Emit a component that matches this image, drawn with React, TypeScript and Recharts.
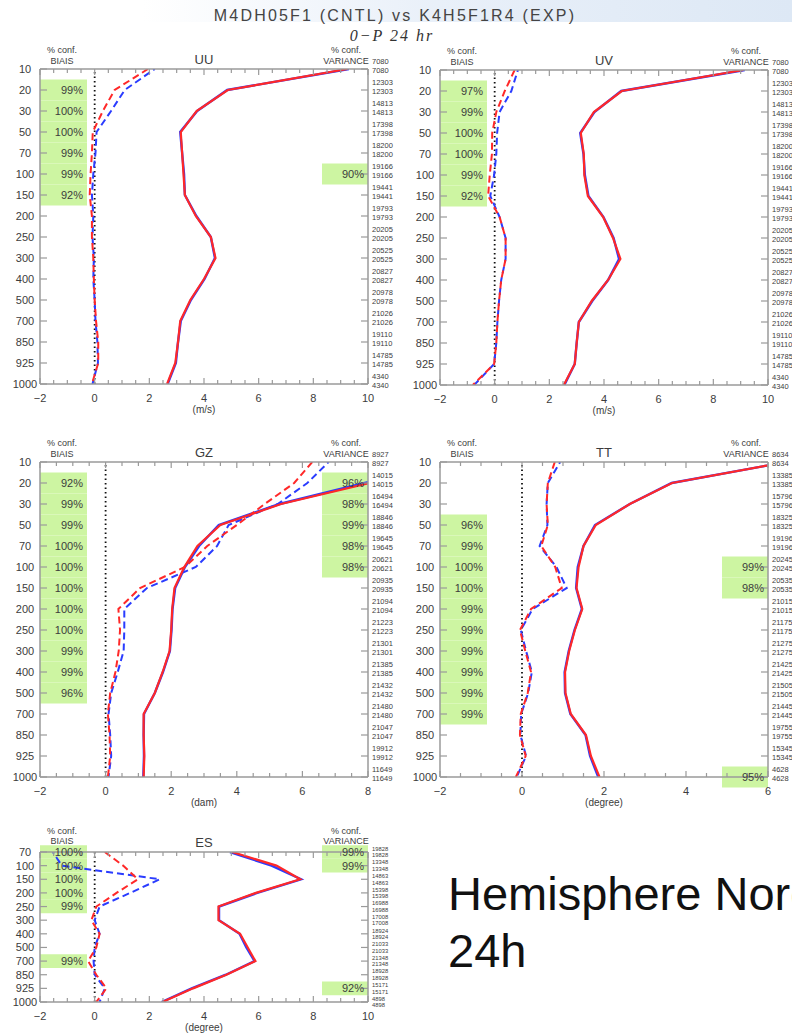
import React from 'react'
import { LineChart, Line, XAxis, YAxis, ReferenceArea, ReferenceLine } from 'recharts'

const RED = '#ff2828'
const BLUE = '#2a3cff'
const GREEN = '#cdf5a2'
const FRAME = '#9a9a9a'
const INK = '#3c3c3c'
const FONT = '"Liberation Sans", Arial, sans-serif'

const LEVELS = ['10', '20', '30', '50', '70', '100', '150', '200', '250', '300', '400', '500', '700', '850', '925', '1000']
const ES_LEVELS = ['70', '100', '150', '200', '250', '300', '400', '500', '700', '850', '925', '1000']

// UU (m/s)
const uuCntlBias = [2.2, 1.1, 0.6, 0.07, 0.03, -0.05, -0.1, -0.05, -0.08, -0.03, -0.05, 0.0, 0.03, 0.1, 0.12, -0.08]
const uuExpBias = [1.95, 0.73, 0.3, -0.07, -0.1, -0.15, -0.18, -0.1, -0.1, -0.05, -0.03, 0.0, 0.05, 0.13, 0.13, -0.1]
const uuCntlStd = [9.3, 4.85, 3.75, 3.13, 3.2, 3.27, 3.3, 3.72, 4.25, 4.4, 4.02, 3.52, 3.15, 3.05, 2.97, 2.67]
const uuExpStd = [9.25, 4.87, 3.73, 3.15, 3.2, 3.25, 3.3, 3.7, 4.25, 4.42, 4.0, 3.5, 3.13, 3.05, 2.95, 2.65]
const uuCounts = [7080, 12303, 14813, 17398, 18200, 19166, 19441, 19793, 20205, 20525, 20827, 20978, 21026, 19110, 14785, 4340]
const uuBiasConf = ['', '99%', '100%', '100%', '99%', '99%', '92%', '', '', '', '', '', '', '', '', '']
const uuVarConf = ['', '', '', '', '', '90%', '', '', '', '', '', '', '', '', '', '']

// UV (m/s)
const uvCntlBias = [0.85, 0.61, 0.18, 0.09, 0.06, -0.02, -0.16, 0.18, 0.4, 0.4, 0.24, 0.16, 0.1, 0.06, -0.02, -0.75]
const uvExpBias = [0.73, 0.37, 0.06, -0.09, -0.1, -0.18, -0.24, 0.18, 0.4, 0.4, 0.24, 0.16, 0.1, 0.06, -0.02, -0.8]
const uvCntlStd = [9.15, 4.63, 3.65, 3.13, 3.25, 3.3, 3.43, 3.98, 4.35, 4.55, 4.15, 3.57, 3.08, 3.0, 2.93, 2.55]
const uvExpStd = [9.1, 4.65, 3.63, 3.15, 3.26, 3.28, 3.41, 3.97, 4.33, 4.6, 4.15, 3.55, 3.08, 3.0, 2.93, 2.53]
const uvCounts = [7080, 12303, 14813, 17398, 18200, 19166, 19441, 19793, 20205, 20525, 20827, 20978, 21026, 19110, 14785, 4340]
const uvBiasConf = ['', '97%', '99%', '100%', '100%', '99%', '92%', '', '', '', '', '', '', '', '', '']
const uvVarConf = ['', '', '', '', '', '', '', '', '', '', '', '', '', '', '', '']

// GZ (dam)
const gzCntlBias = [6.8, 6.15, 5.25, 3.75, 3.4, 2.75, 1.26, 0.57, 0.57, 0.55, 0.37, 0.17, 0.09, 0.14, 0.17, 0.09]
const gzExpBias = [6.3, 5.75, 4.85, 4.0, 3.1, 2.42, 1.05, 0.39, 0.44, 0.4, 0.3, 0.14, 0.07, 0.12, 0.14, 0.07]
const gzCntlStd = [11, 7.9, 5.3, 3.45, 2.85, 2.42, 2.12, 2.04, 2.01, 1.96, 1.75, 1.5, 1.17, 1.16, 1.17, 1.15]
const gzExpStd = [11.5, 8.05, 5.35, 3.5, 2.8, 2.4, 2.1, 2.03, 2.0, 1.95, 1.74, 1.5, 1.16, 1.16, 1.18, 1.16]
const gzCounts = [8927, 14015, 16494, 18846, 19645, 20621, 20935, 21094, 21223, 21301, 21385, 21432, 21480, 21047, 19912, 11649]
const gzBiasConf = ['', '92%', '99%', '99%', '100%', '100%', '100%', '100%', '100%', '99%', '99%', '96%', '', '', '', '']
const gzVarConf = ['', '96%', '98%', '99%', '98%', '98%', '', '', '', '', '', '', '', '', '', '']

// TT (degree)
const ttCntlBias = [0.93, 0.63, 0.6, 0.62, 0.43, 0.84, 1.09, 0.26, -0.03, 0.1, 0.24, 0.15, -0.02, -0.04, 0.1, -0.13]
const ttExpBias = [0.8, 0.63, 0.6, 0.63, 0.47, 0.81, 0.97, 0.22, -0.05, 0.08, 0.22, 0.14, -0.03, -0.05, 0.09, -0.15]
const ttCntlStd = [6.45, 3.65, 2.63, 1.78, 1.5, 1.36, 1.32, 1.46, 1.28, 1.14, 1.04, 1.05, 1.18, 1.55, 1.66, 1.86]
const ttExpStd = [6.45, 3.66, 2.63, 1.8, 1.5, 1.38, 1.33, 1.47, 1.29, 1.15, 1.05, 1.06, 1.19, 1.56, 1.68, 1.89]
const ttCounts = [8634, 13385, 15796, 18325, 19196, 20245, 20535, 21015, 21175, 21275, 21425, 21505, 21445, 19755, 15345, 4628]
const ttBiasConf = ['', '', '', '96%', '99%', '100%', '100%', '99%', '99%', '99%', '99%', '99%', '99%', '', '', '']
const ttVarConf = ['', '', '', '', '', '99%', '98%', '', '', '', '', '', '', '', '', '95%']

// ES (degree)
const esCntlBias = [-1.53, -1.2, 2.38, 1.3, 0.18, 0.0, 0.18, 0.0, -0.04, 0.0, 0.37, 0.18]
const esExpBias = [0.37, 1.04, 1.58, 0.8, 0.06, -0.12, 0.18, 0.06, -0.24, 0.06, 0.43, 0.06]
const esCntlStd = [4.95, 6.47, 7.55, 5.95, 4.55, 4.55, 5.3, 5.55, 5.85, 4.8, 3.55, 2.45]
const esExpStd = [5.03, 6.65, 7.52, 5.9, 4.53, 4.53, 5.32, 5.6, 5.88, 4.82, 3.6, 2.48]
const esCounts = [19828, 13348, 14863, 15398, 16988, 17008, 18924, 21033, 21348, 18928, 15171, 4898]
const esBiasConf = ['100%', '100%', '100%', '100%', '99%', '', '', '', '99%', '', '', '']
const esVarConf = ['99%', '99%', '', '', '', '', '', '', '', '', '92%', '']

const WIND_TICKS = [-2, 0, 2, 4, 6, 8, 10]
const GZ_TICKS = [-2, 0, 2, 4, 6, 8]
const TT_TICKS = [-2, 0, 2, 4, 6]

const fmt = (v: number) => (v < 0 ? '\u2212' + Math.abs(v) : String(v))

function Txt({ x, y, size, children, style }: any) {
  return (
    <div
      style={{
        position: 'absolute', left: x, top: y, transform: 'translate(-50%, -50%)',
        fontSize: size, color: INK, whiteSpace: 'nowrap', lineHeight: 1, ...style,
      }}
    >
      {children}
    </div>
  )
}

interface PanelProps {
  name: string
  unit: string
  levels: string[]
  cntlBias: number[]
  expBias: number[]
  cntlStd: number[]
  expStd: number[]
  counts: number[]
  biasConf: string[]
  varConf: string[]
  xTicks: number[]
  box: { left: number; top: number; right: number; bottom: number }
}

function Panel({ name, unit, levels, cntlBias, expBias, cntlStd, expStd, counts, biasConf, varConf, xTicks, box }: PanelProps) {
  const { left, top, right, bottom } = box
  const xMin = xTicks[0]
  const xMax = xTicks[xTicks.length - 1]
  const minor: number[] = []
  for (let v = xMin; v <= xMax + 1e-9; v += 0.5) minor.push(Math.round(v * 10) / 10)
  const idxTicks = levels.map((_, i) => i)
  const data = levels.map((lv, i) => ({
    idx: i, level: lv,
    cntlBias: cntlBias[i], expBias: expBias[i], cntlStd: cntlStd[i], expStd: expStd[i],
  }))
  const pxPerUnit = (right - left) / (xMax - xMin)
  const biasEdge = xMin + 47 / pxPerUnit
  const varEdge = xMax - 46 / pxPerUnit

  // count labels on the right get squeezed when levels are close together
  const step = (bottom - top) / (levels.length - 1)
  const tight = step < 16
  const cSize = tight ? 5.8 : 7.5
  const cUp = tight ? -1.3 : -5
  const cDown = tight ? 5.3 : 3.5
  const hdr1 = tight ? -21 : -19
  const hdr2 = tight ? -11 : -8

  const PADL = 40, PADR = 40, PADT = 30, PADB = 36
  const W = right - left + PADL + PADR
  const H = bottom - top + PADT + PADB

  const leftTick = (p: any) => (
    <g>
      <line x1={p.x} x2={p.x + 7} y1={p.y} y2={p.y} stroke={FRAME} strokeWidth={1.2} />
      <text x={p.x - 15} y={p.y + 4} textAnchor="middle" fontSize={11} fill={INK}>{levels[p.payload.value]}</text>
    </g>
  )
  const rightTick = (p: any) => (
    <g>
      <line x1={p.x - 7} x2={p.x} y1={p.y} y2={p.y} stroke={FRAME} strokeWidth={1.2} />
      <text x={p.x + 4} y={p.y + cUp} fontSize={cSize} fill={INK}>{counts[p.payload.value]}</text>
      <text x={p.x + 4} y={p.y + cDown} fontSize={cSize} fill={INK}>{counts[p.payload.value]}</text>
    </g>
  )
  const bottomTick = (p: any) => {
    const major = xTicks.includes(p.payload.value)
    return (
      <g>
        <line x1={p.x} x2={p.x} y1={p.y} y2={p.y - (major ? 6 : 4)} stroke={FRAME} strokeWidth={1.2} />
        {major && (
          <text x={p.x} y={p.y + 18} textAnchor="middle" fontSize={11} fill={INK}>{fmt(p.payload.value)}</text>
        )}
      </g>
    )
  }
  const topTick = (p: any) => {
    const major = xTicks.includes(p.payload.value)
    return <line x1={p.x} x2={p.x} y1={p.y} y2={p.y + (major ? 6 : 4)} stroke={FRAME} strokeWidth={1.2} />
  }

  const confLabel = (v: string) => ({ value: v, position: 'insideRight' as const, offset: 4, fill: INK, fontSize: 11 })

  return (
    <>
      <div style={{ position: 'absolute', left: left - PADL, top: top - PADT }}>
        <LineChart layout="vertical" width={W} height={H} data={data} margin={{ top: 0, right: 0, bottom: 0, left: 0 }}>
          <XAxis
            type="number" domain={[xMin, xMax]} allowDataOverflow ticks={minor} interval={0}
            height={PADB} tickSize={0} tickMargin={0} tickLine={false}
            axisLine={{ stroke: FRAME, strokeWidth: 1.5 }} tick={bottomTick}
          />
          <XAxis
            xAxisId="top" orientation="top" type="number" domain={[xMin, xMax]} allowDataOverflow
            ticks={minor} interval={0} height={PADT} tickSize={0} tickMargin={0} tickLine={false}
            axisLine={{ stroke: FRAME, strokeWidth: 1.5 }} tick={topTick}
          />
          <YAxis
            type="number" dataKey="idx" domain={[0, levels.length - 1]} allowDataOverflow
            ticks={idxTicks} interval={0} width={PADL} tickSize={0} tickMargin={0} tickLine={false}
            axisLine={{ stroke: FRAME, strokeWidth: 1.5 }} tick={leftTick}
          />
          <YAxis
            yAxisId="r" orientation="right" type="number" dataKey="idx" domain={[0, levels.length - 1]}
            allowDataOverflow ticks={idxTicks} interval={0} width={PADR} tickSize={0}
            tickMargin={0} tickLine={false} axisLine={{ stroke: FRAME, strokeWidth: 1.5 }} tick={rightTick}
          />
          {biasConf.map((c, i) => c ? (
            <ReferenceArea key={'b' + i} x1={xMin} x2={biasEdge} y1={i - 0.5} y2={i + 0.5}
              ifOverflow="visible" fill={GREEN} fillOpacity={1} stroke="none" label={confLabel(c)} />
          ) : null)}
          {varConf.map((c, i) => c ? (
            <ReferenceArea key={'v' + i} x1={varEdge} x2={xMax} y1={i - 0.5} y2={i + 0.5}
              ifOverflow="visible" fill={GREEN} fillOpacity={1} stroke="none" label={confLabel(c)} />
          ) : null)}
          <ReferenceLine x={0} stroke="#111" strokeWidth={1.8} strokeDasharray="1.5 3" />
          <Line dataKey="cntlBias" stroke={BLUE} strokeWidth={2} strokeDasharray="7 4" strokeDashoffset={5} dot={false} isAnimationActive={false} />
          <Line dataKey="cntlStd" stroke={BLUE} strokeWidth={2.4} dot={false} isAnimationActive={false} />
          <Line dataKey="expBias" stroke={RED} strokeWidth={2} strokeDasharray="7 4" dot={false} isAnimationActive={false} />
          <Line dataKey="expStd" stroke={RED} strokeWidth={2.2} dot={false} isAnimationActive={false} />
          <Line xAxisId="top" yAxisId="r" dataKey="expStd" stroke="none" dot={false} activeDot={false} isAnimationActive={false} />
        </LineChart>
      </div>
      <Txt x={left + 22} y={top + hdr1} size={9}>% conf.</Txt>
      <Txt x={left + 22} y={top + hdr2} size={9}>BIAIS</Txt>
      <Txt x={(left + right) / 2} y={top - 10} size={13}>{name}</Txt>
      <Txt x={right - 22} y={top + hdr1} size={9}>% conf.</Txt>
      <Txt x={right - 22} y={top + hdr2} size={9}>VARIANCE</Txt>
      <Txt x={(left + right) / 2} y={bottom + 26} size={10}>{unit}</Txt>
    </>
  )
}

export default function App() {
  return (
    <div style={{ position: 'absolute', left: 0, top: 0, width: 792, height: 1035, overflow: 'hidden', background: '#fff', fontFamily: FONT }}>
      <div style={{ position: 'absolute', left: 0, top: 0, width: 792, height: 22, background: 'linear-gradient(to right, rgba(255,255,255,0) 18%, #e9f0f9 55%, #dde8f5 100%)' }} />
      <Txt x={395} y={16} size={16} style={{ letterSpacing: 2.2, color: '#444' }}>M4DH05F1 (CNTL) vs K4H5F1R4 (EXP)</Txt>
      <Txt x={392} y={36} size={16} style={{ fontFamily: '"Liberation Serif", serif', fontStyle: 'italic', letterSpacing: 2, color: '#333' }}>0{'\u2212'}P 24 hr</Txt>

      <Panel name="UU" unit="(m/s)" levels={LEVELS} cntlBias={uuCntlBias} expBias={uuExpBias} cntlStd={uuCntlStd} expStd={uuExpStd}
        counts={uuCounts} biasConf={uuBiasConf} varConf={uuVarConf} xTicks={WIND_TICKS} box={{ left: 40, top: 69, right: 368, bottom: 384 }} />
      <Panel name="UV" unit="(m/s)" levels={LEVELS} cntlBias={uvCntlBias} expBias={uvExpBias} cntlStd={uvCntlStd} expStd={uvExpStd}
        counts={uvCounts} biasConf={uvBiasConf} varConf={uvVarConf} xTicks={WIND_TICKS} box={{ left: 440, top: 70, right: 768, bottom: 385 }} />
      <Panel name="GZ" unit="(dam)" levels={LEVELS} cntlBias={gzCntlBias} expBias={gzExpBias} cntlStd={gzCntlStd} expStd={gzExpStd}
        counts={gzCounts} biasConf={gzBiasConf} varConf={gzVarConf} xTicks={GZ_TICKS} box={{ left: 40, top: 462, right: 368, bottom: 777 }} />
      <Panel name="TT" unit="(degree)" levels={LEVELS} cntlBias={ttCntlBias} expBias={ttExpBias} cntlStd={ttCntlStd} expStd={ttExpStd}
        counts={ttCounts} biasConf={ttBiasConf} varConf={ttVarConf} xTicks={TT_TICKS} box={{ left: 440, top: 462, right: 768, bottom: 777 }} />
      <Panel name="ES" unit="(degree)" levels={ES_LEVELS} cntlBias={esCntlBias} expBias={esExpBias} cntlStd={esCntlStd} expStd={esExpStd}
        counts={esCounts} biasConf={esBiasConf} varConf={esVarConf} xTicks={WIND_TICKS} box={{ left: 40, top: 852, right: 368, bottom: 1002 }} />

      <div style={{ position: 'absolute', left: 448, top: 865, fontSize: 47, lineHeight: '57px', color: '#111', whiteSpace: 'nowrap', fontFamily: FONT }}>
        Hemisphere Nord<br />24h
      </div>
    </div>
  )
}
